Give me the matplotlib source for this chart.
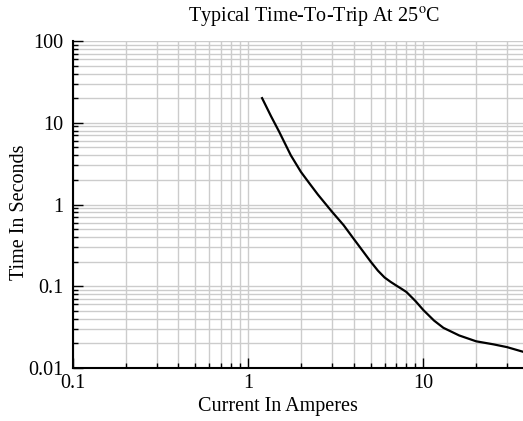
import matplotlib
matplotlib.use("Agg")
import matplotlib.pyplot as plt
from matplotlib.ticker import LogLocator, NullFormatter, FixedLocator, FixedFormatter

# values
current = [1.2, 1.35, 1.5, 1.75, 2.0, 2.25, 2.5, 3.0, 3.5, 4.0, 5.0, 5.5, 6.0, 6.5, 7.0, 7.5, 8.0, 9.0, 10.0, 11.5, 13.0, 16.0, 20.0, 25.0, 30.0, 37.0]
trip_time = [20.0, 12.0, 7.8, 4.0, 2.5, 1.78, 1.32, 0.82, 0.56, 0.38, 0.2, 0.155, 0.128, 0.113, 0.102, 0.093, 0.085, 0.066, 0.051, 0.038, 0.031, 0.025, 0.0212, 0.0195, 0.018, 0.0158]

x_ticks = [0.1, 1, 10]
x_labels = ["0.1", "1", "10"]
y_ticks = [0.01, 0.1, 1, 10, 100]
y_labels = ["0.01", "0.1", "1", "10", "100"]

plt.rcParams["font.family"] = ["Liberation Serif", "DejaVu Serif"]
plt.rcParams["mathtext.fontset"] = "stix"

fig = plt.figure(figsize=(5.23, 4.21), dpi=100)
ax = fig.add_axes([73 / 523, 1 - 368 / 421, 1 - 73 / 523, (368 - 41) / 421])

ax.plot(current, trip_time, color="black", linewidth=1.6, zorder=3)
ax.set_xscale("log")
ax.set_yscale("log")
ax.set_xlim(0.1, 37)
ax.set_ylim(0.01, 100)

ax.xaxis.set_major_locator(FixedLocator(x_ticks))
ax.xaxis.set_major_formatter(FixedFormatter(x_labels))
ax.yaxis.set_major_locator(FixedLocator(y_ticks))
ax.yaxis.set_major_formatter(FixedFormatter(y_labels))
ax.xaxis.set_minor_locator(LogLocator(base=10, subs=range(2, 10), numticks=20))
ax.yaxis.set_minor_locator(LogLocator(base=10, subs=range(2, 10), numticks=20))
ax.xaxis.set_minor_formatter(NullFormatter())
ax.yaxis.set_minor_formatter(NullFormatter())

ax.grid(True, which="both", color="#cccccc", linewidth=1.0, zorder=0)
ax.set_axisbelow(True)
ax.tick_params(axis="y", which="major", pad=7)
ax.tick_params(axis="x", which="major", pad=4)
ax.tick_params(which="major", direction="in", length=7, width=1, labelsize=14.5)
ax.tick_params(which="minor", direction="in", length=3.5, width=1)
ax.tick_params(top=False, right=False, which="both")
for side in ["top", "right"]:
    ax.spines[side].set_visible(False)
for side in ["left", "bottom"]:
    ax.spines[side].set_linewidth(1.5)

fig.text(314 / 523, 1 - 17 / 421, r"Typical Time-To-Trip At 25$^{\mathrm{o}}$C",
         ha="center", va="center", fontsize=14.5)
fig.text(278 / 523, 1 - 407 / 421, "Current In Amperes", ha="center", va="center", fontsize=14.5)
fig.text(20 / 523, 1 - 212 / 421, "Time In Seconds", ha="center", va="center",
         rotation=90, fontsize=14.5)

fig.savefig("out.png", dpi=100)
